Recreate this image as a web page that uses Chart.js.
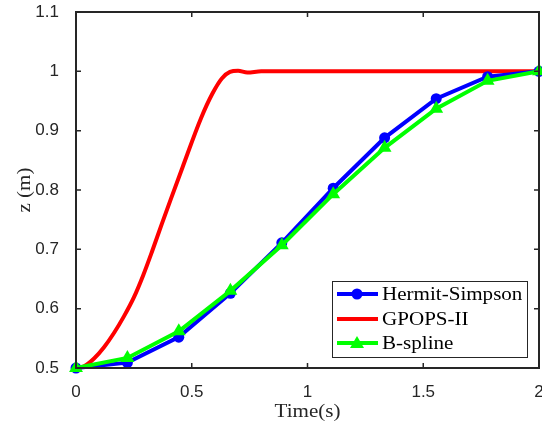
<!DOCTYPE html>
<html>
<head>
<meta charset="utf-8">
<script src="https://cdn.jsdelivr.net/npm/chart.js@4.4.0/dist/chart.umd.min.js"></script>
<style>
  html, body { margin: 0; padding: 0; background: #fff; }
  #wrap { width: 542px; height: 430px; position: relative; }
</style>
</head>
<body>
<div id="wrap"><canvas id="zChart"></canvas></div>
<script>
// Data

const nodeTimes = [0, 0.222, 0.444, 0.667, 0.889, 1.111, 1.333, 1.556, 1.778, 2];
const hermitSimpson = [0.5, 0.509, 0.552, 0.626, 0.711, 0.803, 0.888, 0.954, 0.991, 1.0];
const bSpline = [0.5, 0.517, 0.562, 0.630, 0.707, 0.793, 0.871, 0.937, 0.984, 1.0];

const gpopsTimes = [0, 0.035, 0.078, 0.121, 0.164, 0.207, 0.25, 0.29, 0.33, 0.37, 0.41, 0.46, 0.54, 0.59, 0.63, 0.665, 0.70, 0.74, 0.80, 1.0, 1.5, 2];
const gpopsValues = [0.5, 0.503, 0.516, 0.535, 0.559, 0.587, 0.619, 0.656, 0.698, 0.742, 0.785, 0.838, 0.921, 0.963, 0.988, 0.999, 1.001, 0.998, 1.0, 1.0, 1.0, 1.0];

const xTicks = [0, 0.5, 1, 1.5, 2];
const yTicks = [0.5, 0.6, 0.7, 0.8, 0.9, 1, 1.1];

const legendLabels = ['Hermit-Simpson', 'GPOPS-II', 'B-spline'];
const xTitle = 'Time(s)';
const yTitle = 'z (m)';

const toPoints = (xs, ys) => xs.map((x, i) => ({ x: x, y: ys[i] }));

const axisColor = '#262626';
const tickFont = { family: '"Liberation Sans", Arial, sans-serif', size: 17 };
const serif = '"Liberation Serif", "Times New Roman", serif';

// draw text a bit wider, like the LaTeX font of the original
function wideText(ctx, text, x, y, size, stretch, align) {
  ctx.save();
  ctx.font = size + 'px ' + serif;
  ctx.textBaseline = 'middle';
  const w = ctx.measureText(text).width * stretch;
  let x0 = x;
  if (align === 'center') x0 = x - w / 2;
  ctx.translate(x0, y);
  ctx.scale(stretch, 1);
  ctx.fillText(text, 0, 0);
  ctx.restore();
}

// Box and inward ticks (MATLAB style)
const boxPlugin = {
  id: 'boxPlugin',
  afterDatasetsDraw(chart) {
    const { ctx, chartArea: a, scales } = chart;
    ctx.save();
    ctx.strokeStyle = axisColor;
    ctx.lineWidth = 2;
    ctx.strokeRect(a.left, a.top, a.right - a.left, a.bottom - a.top);
    ctx.lineWidth = 1.5;
    ctx.beginPath();
    xTicks.forEach(v => {
      const px = scales.x.getPixelForValue(v);
      ctx.moveTo(px, a.bottom); ctx.lineTo(px, a.bottom - 5);
      ctx.moveTo(px, a.top); ctx.lineTo(px, a.top + 5);
    });
    yTicks.forEach(v => {
      const py = scales.y.getPixelForValue(v);
      ctx.moveTo(a.left, py); ctx.lineTo(a.left + 5, py);
      ctx.moveTo(a.right, py); ctx.lineTo(a.right - 5, py);
    });
    ctx.stroke();

    // axis titles
    ctx.fillStyle = axisColor;
    const cx = (a.left + a.right) / 2;
    wideText(ctx, xTitle, cx, 412, 18, 1.17, 'center');
    ctx.save();
    ctx.translate(25, (a.top + a.bottom) / 2);
    ctx.rotate(-Math.PI / 2);
    wideText(ctx, yTitle, 0, 0, 18, 1.17, 'center');
    ctx.restore();
    ctx.restore();
  }
};

// Legend inside the plot, lower right
const boxLegend = {
  id: 'boxLegend',
  afterDraw(chart) {
    const { ctx } = chart;
    const box = { left: 332, top: 281, width: 195, height: 76 };
    const rows = [294, 319, 343];
    ctx.save();
    ctx.fillStyle = '#fff';
    ctx.fillRect(box.left, box.top, box.width, box.height);
    ctx.strokeStyle = axisColor;
    ctx.lineWidth = 1;
    ctx.strokeRect(box.left + 0.5, box.top + 0.5, box.width, box.height);

    chart.data.datasets.forEach((ds, i) => {
      const y = rows[i];
      ctx.strokeStyle = ds.borderColor;
      ctx.lineWidth = 4;
      ctx.beginPath();
      ctx.moveTo(337, y);
      ctx.lineTo(378, y);
      ctx.stroke();
      ctx.fillStyle = ds.borderColor;
      if (ds.pointStyle === 'circle' && ds.pointRadius > 0) {
        ctx.beginPath();
        ctx.arc(357, y, 5.5, 0, Math.PI * 2);
        ctx.fill();
      } else if (ds.pointStyle === 'triangle') {
        ctx.beginPath();
        ctx.moveTo(357, y - 7);
        ctx.lineTo(364, y + 5);
        ctx.lineTo(350, y + 5);
        ctx.closePath();
        ctx.fill();
      }
      ctx.fillStyle = '#000';
      wideText(ctx, legendLabels[i], 382, y + 1, 18, 1.17, 'left');
    });
    ctx.restore();
  }
};

const zChart = new Chart(document.getElementById('zChart'), {
  type: 'line',
  data: {
    datasets: [
      {
        label: legendLabels[0],
        data: toPoints(nodeTimes, hermitSimpson),
        borderColor: '#0000ff',
        backgroundColor: '#0000ff',
        borderWidth: 4,
        pointStyle: 'circle',
        pointRadius: 5.5,
        pointBorderWidth: 0,
        clip: false,
        order: 2,
      },
      {
        label: legendLabels[1],
        data: toPoints(gpopsTimes, gpopsValues),
        borderColor: '#ff0000',
        backgroundColor: '#ff0000',
        borderWidth: 4,
        pointRadius: 0,
        cubicInterpolationMode: 'monotone',
        clip: false,
        order: 3,
      },
      {
        label: legendLabels[2],
        data: toPoints(nodeTimes, bSpline),
        borderColor: '#00ff00',
        backgroundColor: '#00ff00',
        borderWidth: 4,
        pointStyle: 'triangle',
        pointRadius: 8,
        pointBorderWidth: 0,
        clip: false,
        order: 1,
      },
    ]
  },
  options: {
    responsive: true,
    maintainAspectRatio: false,
    animation: false,
    layout: { autoPadding: false, padding: { top: 12, right: 3, left: 0, bottom: 0 } },
    plugins: {
      legend: { display: false },
      tooltip: { enabled: false },
    },
    scales: {
      x: {
        type: 'linear',
        min: 0,
        max: 2,
        afterFit: s => { s.height = 62; s.paddingLeft = 0; s.paddingRight = 0; },
        afterBuildTicks: s => { s.ticks = xTicks.map(v => ({ value: v })); },
        grid: { display: false },
        border: { display: false },
        ticks: { color: axisColor, font: tickFont, padding: 6, maxRotation: 0, callback: v => String(v) },
      },
      y: {
        min: 0.5,
        max: 1.1,
        afterFit: s => { s.width = 76; s.paddingTop = 0; s.paddingBottom = 0; },
        afterBuildTicks: s => { s.ticks = yTicks.map(v => ({ value: v })); },
        grid: { display: false },
        border: { display: false },
        ticks: { color: axisColor, font: tickFont, padding: 9, callback: v => String(v) },
      },
    },
  },
  plugins: [boxPlugin, boxLegend],
});
</script>
</body>
</html>
